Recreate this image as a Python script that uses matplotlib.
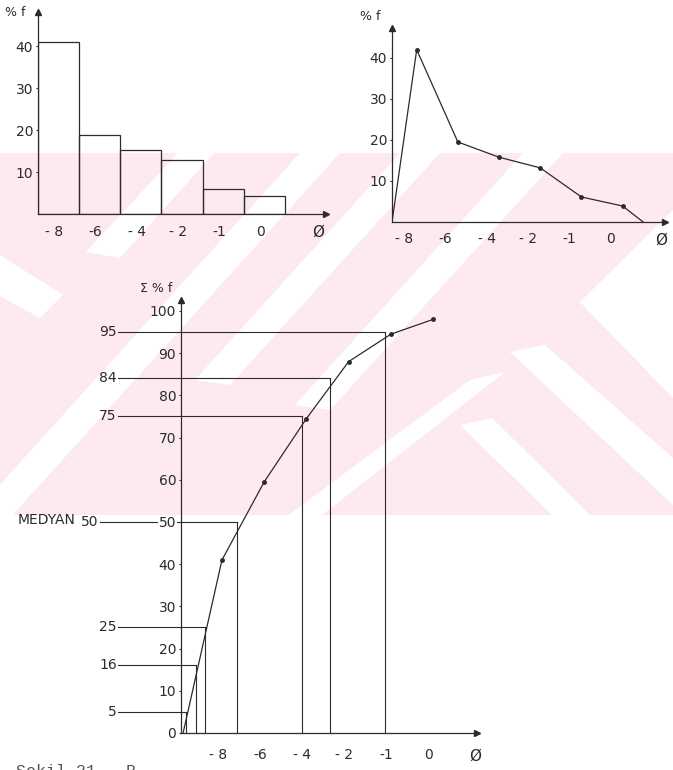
import matplotlib
matplotlib.use("Agg")
import matplotlib.pyplot as plt
import numpy as np
from matplotlib.patches import Polygon, Rectangle

# class labels (phi), same order on all three charts
classes = ["- 8", "-6", "- 4", "- 2", "-1", "0"]

# frequency in % per class (histogram and polygon)
freq = [41, 18.8, 15.2, 12.8, 6.0, 4.3]
# polygon drawn a bit higher by hand
poly_freq = [42, 19.5, 15.8, 13.2, 6.1, 3.9]
poly_start, poly_end = -0.6, 5.5

# cumulative %
cum = [41, 59.5, 74.5, 88, 94.5, 98]
cum_start = -0.92

# percentiles (position along the class axis)
pct_levels = [5, 16, 25, 50, 75, 84, 95]
pct_pos = [-0.85, -0.62, -0.40, 0.36, 1.90, 2.56, 3.86]

W, H = 673, 770
INK = "#2b2b2b"
PINK = "#fdeaee"


def px_rect(x0, y0, x1, y1):
    return [x0 / W, 1 - y1 / H, (x1 - x0) / W, (y1 - y0) / H]


def axis_style(ax, xlim, ylim, yticks, xpad):
    ax.set_xlim(*xlim)
    ax.set_ylim(*ylim)
    ax.patch.set_alpha(0)
    for s in ("top", "right"):
        ax.spines[s].set_visible(False)
    for s in ("left", "bottom"):
        ax.spines[s].set_color(INK)
        ax.spines[s].set_linewidth(0.9)
    ax.plot(1, 0, ">", color=INK, ms=4, transform=ax.transAxes, clip_on=False)
    ax.plot(0, 1, "^", color=INK, ms=4, transform=ax.transAxes, clip_on=False)
    ax.set_yticks(yticks)
    ax.set_yticklabels([str(v) for v in yticks])
    ax.tick_params(axis="y", length=1.5, width=0.8, pad=2, labelsize=10, colors=INK)
    ax.tick_params(axis="x", length=0, pad=xpad, labelsize=10, colors=INK)


fig = plt.figure(figsize=(W / 100, H / 100), dpi=100)

# watermark in the background
bg = fig.add_axes([0, 0, 1, 1])
bg.set_xlim(0, W)
bg.set_ylim(H, 0)
bg.axis("off")
band = Rectangle((0, 153), W, 362, facecolor=PINK, edgecolor="none")
bg.add_patch(band)
white_shapes = [
    [(0, 255), (63, 295), (40, 318), (0, 296)],
    [(178, 153), (214, 153), (120, 258), (86, 252)],
    [(300, 153), (340, 153), (-10, 540), (-50, 540)],
    [(400, 153), (440, 153), (230, 385), (195, 380)],
    [(523, 153), (563, 153), (330, 410), (295, 405)],
    [(470, 380), (505, 372), (290, 540), (255, 540)],
    [(580, 302), (673, 210), (673, 398)],
    [(510, 352), (545, 345), (673, 458), (673, 505)],
    [(460, 425), (492, 418), (590, 515), (552, 515)],
]
for pts in white_shapes:
    p = Polygon(pts, closed=True, facecolor="white", edgecolor="none")
    bg.add_patch(p)
    p.set_clip_path(band)

# histogram
ax1 = fig.add_axes(px_rect(38, 12, 326, 214))
axis_style(ax1, (0, 7), (0, 48.1), [10, 20, 30, 40], 8)
idx = np.arange(len(classes))
ax1.bar(idx, freq, width=1, align="edge", fill=False, edgecolor=INK, linewidth=0.9)
ax1.set_xticks(idx + 0.4)
ax1.set_xticklabels(classes)
fig.text(5 / W, 1 - 13 / H, "% f", fontsize=9, color=INK, va="center")
ax1.text(6.8, -4.3, "Ø", fontsize=11, color=INK, ha="center", va="center")

# frequency polygon
ax2 = fig.add_axes(px_rect(392, 28, 665, 222))
axis_style(ax2, (poly_start, 6.03), (0, 47.3), [10, 20, 30, 40], 7)
ax2.plot(np.r_[poly_start, idx, poly_end], np.r_[0, poly_freq, 0], color=INK, lw=0.9)
ax2.plot(idx, poly_freq, "o", color=INK, ms=2.5)
ax2.set_xticks(idx - 0.3)
ax2.set_xticklabels(classes)
fig.text(360 / W, 1 - 16 / H, "% f", fontsize=9, color=INK, va="center")
ax2.text(5.93, -4.4, "Ø", fontsize=11, color=INK, ha="center", va="center")

# cumulative curve
ax3 = fig.add_axes(px_rect(181, 300, 477, 733))
axis_style(ax3, (-0.97, 6.04), (0, 102.6), list(range(0, 101, 10)), 11)
ax3.plot(np.r_[cum_start, idx], np.r_[0, cum], color=INK, lw=0.9)
ax3.plot(idx, cum, "o", color=INK, ms=2.5)
ax3.set_xticks(idx - 0.1)
ax3.set_xticklabels(classes)
for lab in ax3.get_yticklabels():
    if lab.get_text() == "50":
        lab.set_bbox(dict(facecolor="white", edgecolor="none", pad=0.5))

for level, pos in zip(pct_levels, pct_pos):
    start = -2.89 if level == 50 else -2.46
    ax3.plot([start, pos], [level, level], color=INK, lw=0.8, clip_on=False, zorder=1)
    ax3.plot([pos, pos], [0, level], color=INK, lw=0.8, zorder=1)
    ax3.text(start - 0.03, level, str(level), fontsize=10, color=INK,
             ha="right", va="center", clip_on=False)
ax3.text(-4.85, 50.5, "MEDYAN", fontsize=10, color=INK, ha="left", va="center", clip_on=False)
fig.text(140 / W, 1 - 288 / H, "Σ % f", fontsize=9, color=INK, va="center")
ax3.text(6.0, -5.5, "Ø", fontsize=11, color=INK, ha="center", va="center", clip_on=False)

# caption, cut off at the page edge as in the scan
fig.text(16 / W, 1 - 764 / H, "Şekil 21.  B", family="Liberation Mono", fontsize=12,
         color="#555555", va="top")

fig.savefig("out.png", dpi=100)
